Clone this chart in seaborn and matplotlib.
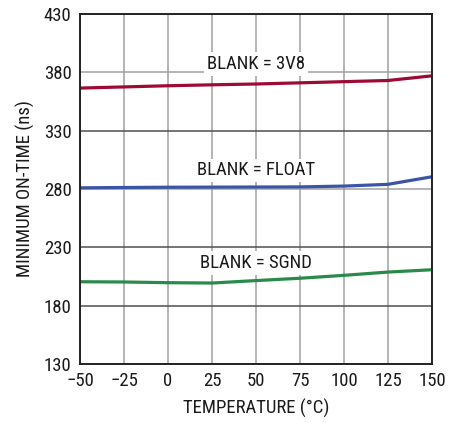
import matplotlib
matplotlib.use("Agg")
import matplotlib.pyplot as plt
import seaborn as sns
import pandas as pd

temps = [-50, -25, 0, 25, 50, 75, 100, 125, 150]
blank_3v8 = [366.5, 367.5, 368.5, 369.3, 370.0, 371.0, 372.0, 373.0, 377.0]
blank_float = [281.0, 281.3, 281.5, 281.6, 281.7, 281.8, 282.5, 284.0, 290.5]
blank_sgnd = [200.5, 200.3, 199.7, 199.4, 201.5, 203.5, 206.0, 208.8, 210.8]
series_names = ["BLANK = 3V8", "BLANK = FLOAT", "BLANK = SGND"]
colors = ["#9E0A36", "#3A55A6", "#2A8A4C"]
label_pos = [(50, 387), (50, 296), (50, 216.5)]
xticks = [-50, -25, 0, 25, 50, 75, 100, 125, 150]
yticks = [130, 180, 230, 280, 330, 380, 430]

sns.set_theme(style="white")
plt.rcParams["font.family"] = ["Roboto Condensed", "DejaVu Sans"]

df = pd.concat([
    pd.DataFrame({"T": temps, "v": vals, "s": name})
    for name, vals in zip(series_names, [blank_3v8, blank_float, blank_sgnd])
])

fig = plt.figure(figsize=(4.61, 4.23), dpi=100)
ax = fig.add_axes([80 / 461, 1 - 364 / 423, 352 / 461, 350 / 423])
sns.lineplot(data=df, x="T", y="v", hue="s", palette=colors, linewidth=2.3,
             legend=False, ax=ax)

ax.set_xlim(-50, 150)
ax.set_ylim(130, 430)
ax.set_xticks(xticks)
ax.set_yticks(yticks)
ax.tick_params(axis="both", labelsize=13.5, length=0, colors="#1a1a1a")
ax.tick_params(axis="x", pad=6)
ax.tick_params(axis="y", pad=6)
ax.grid(True, color="#a0a0a0", linewidth=1.1)
for tick_val, gl in zip(ax.get_yticks(), ax.get_ygridlines()):
    if tick_val in (330, 230, 180):
        gl.set_color("#505050")
ax.set_axisbelow(True)
for sp in ax.spines.values():
    sp.set_color("#222222")
    sp.set_linewidth(1.4)
ax.set_xlabel("TEMPERATURE (°C)", fontsize=13.5, labelpad=6, color="#1a1a1a")
ax.set_ylabel("MINIMUM ON-TIME (ns)", fontsize=13.5, labelpad=6, color="#1a1a1a")

for name, (x, y) in zip(series_names, label_pos):
    ax.text(x, y, name, fontsize=13.5, ha="center", va="center", color="#1a1a1a",
            bbox=dict(facecolor="white", edgecolor="none", pad=2))

fig.savefig("out.png", dpi=100)
